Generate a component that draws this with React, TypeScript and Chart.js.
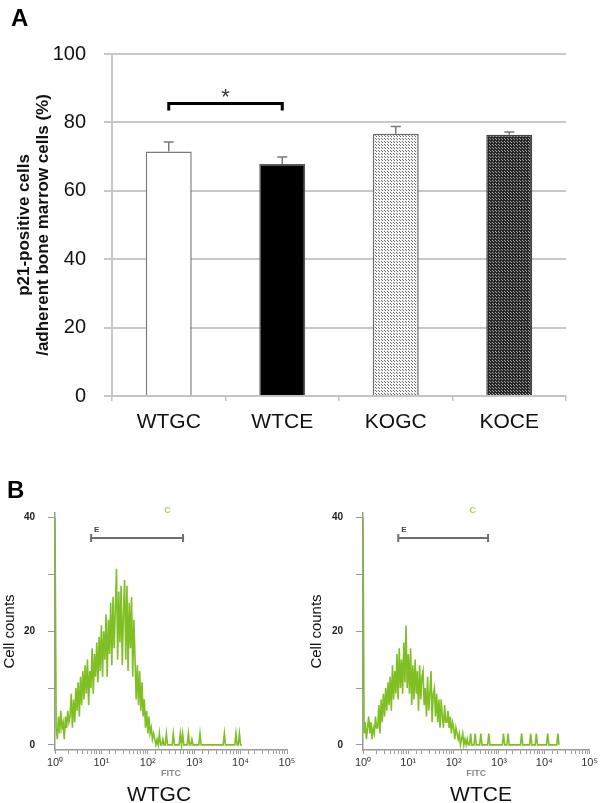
import React, { useEffect, useRef } from "react";
import { Chart, registerables } from "chart.js";

Chart.register(...registerables);

// ---------- Panel A data ----------
const GROUPS = ["WTGC", "WTCE", "KOGC", "KOCE"];
const MEANS = [71.5, 67.8, 76.7, 76.4];
const ERRORS = [2.8, 2.1, 2.1, 0.8];
const Y_TICKS_A = [0, 20, 40, 60, 80, 100];
const Y_TITLE_A = ["p21-positive cells", "/adherent bone marrow cells (%)"];
const SIG_PAIR = [0, 1];
const SIG_LEVEL = 85.5;
const SIG_MARK = "*";

// ---------- Panel B data ----------
const BIN_WIDTH_DECADES = 0.025; // channel width on the log FITC axis
const WTGC_COUNTS = [
  40,
  3, 1, 5, 2, 6, 3, 4, 1, 5, 3, 6, 4,
  5, 9, 3, 8, 4, 10, 6, 11, 5, 12, 7, 13,
  8, 14, 9, 15, 7, 13, 10, 17, 9, 16, 12, 18,
  11, 19, 13, 21, 12, 20, 15, 23, 12, 22, 16, 25,
  14, 26, 17, 24, 31, 15, 27, 18, 28, 14, 23, 29,
  15, 28, 13, 25, 17, 26, 12, 22,
  15, 8, 14, 7, 13, 6, 11, 5,
  8, 3, 6, 2, 5, 2, 3, 1,
  2, 1, 0, 1, 0, 2, 0, 0, 1, 0, 0, 2,
  0, 0, 0, 0, 0, 2, 0, 0, 0, 0, 0, 2,
  0, 2, 0, 0, 0, 0, 2, 0, 0, 1, 0, 0,
  0, 0, 0, 0, 2, 0, 0, 0, 0, 0, 0, 0,
  0, 0, 0, 0, 0, 0, 0, 0, 0, 0, 0, 0,
  0, 2, 0, 0, 0, 0, 0, 0, 0, 0, 0, 2,
  0, 0, 2, 0, 0,
];
const WTCE_COUNTS = [
  40,
  2, 4, 1, 3, 5, 2, 4, 1, 3, 2, 5, 3,
  3, 7, 2, 8, 4, 9, 5, 10, 6, 11,
  7, 12, 6, 14, 8, 13, 9, 16,
  8, 17, 10, 15, 9, 18, 11, 21, 10, 16, 9, 17,
  7, 14, 8, 15, 9, 13, 6, 14, 8, 12, 13, 7,
  10, 5, 12, 6, 9, 13, 4, 9, 10, 5,
  9, 4, 8, 3, 8, 5, 3, 7, 4, 4,
  6, 3, 5, 2, 4, 3, 1, 3, 2, 1,
  2, 0, 1, 2, 0, 1, 0, 1, 0, 0,
  2, 0, 0, 0, 2, 0, 0, 0, 0, 2,
  0, 0, 0, 0, 0, 0, 2, 0, 0, 0,
  0, 0, 0, 0, 0, 0, 0, 0, 0, 2,
  0, 0, 0, 2, 0, 0, 0, 0, 0, 0,
  0, 0, 0, 0, 0, 2, 0, 0, 0, 0,
  0, 0, 0, 2, 0, 0, 0, 0, 2, 0,
  0, 0, 0, 0, 0, 0, 0, 0, 2, 0,
  0, 0, 0, 0, 0, 0, 0, 2, 0,
];
const HIST_Y_TICKS = [0, 10, 20, 30, 40];
const HIST_Y_LABELS = [0, 20, 40];
const SUPERSCRIPTS = ["⁰", "¹", "²", "³", "⁴", "⁵"];
const GATE_E = [6, 575];
const GATE_LEVEL = 36.4;
const GATE_LABEL = "E";
const MARKER_C_POS = 265;
const MARKER_C_LEVEL = 41.3;
const MARKER_C = "C";
const X_TITLE_B = "FITC";
const Y_TITLE_B = "Cell counts";

const FONT = "'Liberation Sans', Arial, Helvetica, sans-serif";
const GREEN = "#7fbf24";

function makePattern(bg: string, dot: string, size: number) {
  const c = document.createElement("canvas");
  c.width = size;
  c.height = size;
  const g = c.getContext("2d")!;
  g.fillStyle = bg;
  g.fillRect(0, 0, size, size);
  g.fillStyle = dot;
  g.fillRect(0, 0, 1, 1);
  g.fillRect(Math.floor(size / 2), Math.floor(size / 2), 1, 1);
  return g.createPattern(c, "repeat");
}

function BarPanel() {
  const ref = useRef<HTMLCanvasElement>(null);
  useEffect(() => {
    const canvas = ref.current!;
    const light = makePattern("#f6f6f6", "#6a6a6a", 3);
    const dark = makePattern("#262626", "#a8a8a8", 3);
    const annot = {
      id: "annotA",
      afterDatasetsDraw(chart: any) {
        const ctx = chart.ctx;
        const meta = chart.getDatasetMeta(0);
        const y = chart.scales.y;
        ctx.save();
        meta.data.forEach((el: any, i: number) => {
          const top = y.getPixelForValue(MEANS[i] + ERRORS[i]);
          ctx.strokeStyle = "#7a7a7a";
          ctx.lineWidth = 1.5;
          ctx.beginPath();
          ctx.moveTo(el.x, el.y);
          ctx.lineTo(el.x, top);
          ctx.moveTo(el.x - 5, top);
          ctx.lineTo(el.x + 5, top);
          ctx.stroke();
        });
        const a = meta.data[SIG_PAIR[0]].x;
        const b = meta.data[SIG_PAIR[1]].x;
        const sy = y.getPixelForValue(SIG_LEVEL);
        ctx.strokeStyle = "#000";
        ctx.lineWidth = 3;
        ctx.lineJoin = "miter";
        ctx.beginPath();
        ctx.moveTo(a, sy + 7);
        ctx.lineTo(a, sy);
        ctx.lineTo(b, sy);
        ctx.lineTo(b, sy + 7);
        ctx.stroke();
        ctx.fillStyle = "#333";
        ctx.font = `22px ${FONT}`;
        ctx.textAlign = "center";
        ctx.textBaseline = "middle";
        ctx.fillText(SIG_MARK, (a + b) / 2, sy - 6);
        ctx.font = `bold 24px ${FONT}`;
        ctx.fillStyle = "#000";
        ctx.textAlign = "left";
        ctx.textBaseline = "alphabetic";
        ctx.fillText("A", 11, 26);
        ctx.restore();
      },
    };
    const chart = new Chart(canvas, {
      type: "bar",
      data: {
        labels: GROUPS,
        datasets: [
          {
            data: MEANS,
            backgroundColor: ["#ffffff", "#000000", light as any, dark as any],
            borderColor: ["#7a7a7a", "#5a5a5a", "#6a6a6a", "#444444"],
            borderWidth: 1.5,
            categoryPercentage: 0.5,
            barPercentage: 0.81,
          },
        ],
      },
      options: {
        animation: false,
        responsive: false,
        maintainAspectRatio: false,
        layout: { padding: { top: 54, right: 34, left: 0, bottom: 0 } },
        plugins: { legend: { display: false }, tooltip: { enabled: false } },
        scales: {
          x: {
            grid: {
              display: true,
              drawOnChartArea: false,
              drawTicks: true,
              tickLength: 5,
              color: "#c4c4c4",
              lineWidth: 1.5,
              offset: true,
            },
            border: { color: "#c4c4c4", width: 2 },
            ticks: { font: { family: FONT, size: 21 }, color: "#111", padding: 9 },
            afterFit: (s: any) => {
              s.height = 44;
            },
          },
          y: {
            min: 0,
            max: 100,
            afterBuildTicks: (ax: any) => {
              ax.ticks = Y_TICKS_A.map((v) => ({ value: v }));
            },
            grid: { color: "#c8c8c8", lineWidth: 2, tickLength: 8 },
            border: { color: "#c8c8c8", width: 2 },
            ticks: { font: { family: FONT, size: 20 }, color: "#111", padding: 18 },
            title: {
              display: true,
              text: Y_TITLE_A,
              font: { family: FONT, size: 17, weight: "bold", lineHeight: 1.1 },
              color: "#111",
              padding: { top: 15, bottom: 0 },
            },
            afterFit: (s: any) => {
              s.width = 112;
            },
          },
        },
      },
      plugins: [annot],
    } as any);
    return () => chart.destroy();
  }, []);
  return (
    <canvas
      ref={ref}
      width={600}
      height={440}
      style={{ position: "absolute", left: 0, top: 0, width: 600, height: 440 }}
    />
  );
}

function Histogram(props: {
  counts: number[];
  name: string;
  left: number;
  padRight: number;
  yAxisWidth: number;
  yTitlePad: number;
  nameX: number;
  panelLetter?: string;
}) {
  const ref = useRef<HTMLCanvasElement>(null);
  useEffect(() => {
    const canvas = ref.current!;
    const points = props.counts.map((c, i) => ({ x: Math.pow(10, i * BIN_WIDTH_DECADES), y: c }));
    const annot = {
      id: "annotB",
      afterDraw(chart: any) {
        const ctx = chart.ctx;
        const xs = chart.scales.x;
        const ys = chart.scales.y;
        ctx.save();
        const x1 = xs.getPixelForValue(GATE_E[0]);
        const x2 = xs.getPixelForValue(GATE_E[1]);
        const gy = ys.getPixelForValue(GATE_LEVEL);
        ctx.strokeStyle = "#6f6f6f";
        ctx.lineWidth = 2;
        ctx.beginPath();
        ctx.moveTo(x1, gy);
        ctx.lineTo(x2, gy);
        ctx.moveTo(x1, gy - 4);
        ctx.lineTo(x1, gy + 4);
        ctx.moveTo(x2, gy - 4);
        ctx.lineTo(x2, gy + 4);
        ctx.stroke();
        ctx.fillStyle = "#444";
        ctx.font = `bold 8px ${FONT}`;
        ctx.textAlign = "left";
        ctx.textBaseline = "alphabetic";
        ctx.fillText(GATE_LABEL, x1 + 3, gy - 6);
        ctx.fillStyle = "#a8d45c";
        ctx.font = `bold 9px ${FONT}`;
        ctx.textAlign = "center";
        ctx.textBaseline = "middle";
        ctx.fillText(MARKER_C, xs.getPixelForValue(MARKER_C_POS), ys.getPixelForValue(MARKER_C_LEVEL));
        ctx.fillStyle = "#111";
        ctx.font = `21px ${FONT}`;
        ctx.fillText(props.name, props.nameX, 335);
        if (props.panelLetter) {
          ctx.fillStyle = "#000";
          ctx.font = `bold 24px ${FONT}`;
          ctx.textAlign = "left";
          ctx.textBaseline = "alphabetic";
          ctx.fillText(props.panelLetter, 7, 38);
        }
        ctx.restore();
      },
    };
    const chart = new Chart(canvas, {
      type: "line",
      data: {
        datasets: [
          {
            data: points,
            borderColor: GREEN,
            borderWidth: 1.6,
            pointRadius: 0,
            tension: 0,
            fill: false,
          },
        ],
      },
      options: {
        animation: false,
        responsive: false,
        maintainAspectRatio: false,
        layout: { padding: { top: 53, right: props.padRight, left: 0, bottom: 0 } },
        plugins: { legend: { display: false }, tooltip: { enabled: false } },
        scales: {
          x: {
            type: "logarithmic",
            min: 1,
            max: 100000,
            grid: { drawOnChartArea: false, drawTicks: true, tickLength: 4, color: "#9a9a9a", lineWidth: 1 },
            border: { color: "#9a9a9a", width: 1.5 },
            ticks: {
              autoSkip: false,
              maxRotation: 0,
              minRotation: 0,
              padding: 2,
              color: "#333",
              font: { family: FONT, size: 11 },
              callback: (v: any) => {
                const l = Math.log10(Number(v));
                const r = Math.round(l);
                return Math.abs(l - r) < 1e-9 ? "10" + SUPERSCRIPTS[r] : "";
              },
            },
            title: {
              display: true,
              text: X_TITLE_B,
              color: "#8a8a8a",
              font: { family: FONT, size: 9, weight: "bold" },
              padding: { top: 0, bottom: 24 },
            },
            afterFit: (s: any) => {
              s.height = 53;
            },
          },
          y: {
            min: -0.9,
            max: 40.8,
            afterBuildTicks: (ax: any) => {
              ax.ticks = HIST_Y_TICKS.map((v) => ({ value: v }));
            },
            grid: { drawOnChartArea: false, drawTicks: true, tickLength: 7, color: "#9a9a9a", lineWidth: 1 },
            border: { color: "#9a9a9a", width: 1.5 },
            ticks: {
              padding: 13,
              color: "#222",
              font: { family: FONT, size: 10, weight: "bold" },
              callback: (v: any) => (HIST_Y_LABELS.includes(Number(v)) ? String(v) : ""),
            },
            title: {
              display: true,
              text: Y_TITLE_B,
              color: "#111",
              font: { family: FONT, size: 15 },
              padding: { top: props.yTitlePad, bottom: 0 },
            },
            afterFit: (s: any) => {
              s.width = props.yAxisWidth;
            },
          },
        },
      },
      plugins: [annot],
    } as any);
    return () => chart.destroy();
  }, []);
  return (
    <canvas
      ref={ref}
      width={300}
      height={343}
      style={{ position: "absolute", left: props.left, top: 460, width: 300, height: 343 }}
    />
  );
}

export default function App() {
  return (
    <div style={{ position: "absolute", left: 0, top: 0, width: 600, height: 803, background: "#fff" }}>
      <BarPanel />
      <Histogram counts={WTGC_COUNTS} name="WTGC" left={0} padRight={13} yAxisWidth={55} yTitlePad={1} nameX={159} panelLetter="B" />
      <Histogram counts={WTCE_COUNTS} name="WTCE" left={300} padRight={5} yAxisWidth={63} yTitlePad={8} nameX={181} />
    </div>
  );
}
